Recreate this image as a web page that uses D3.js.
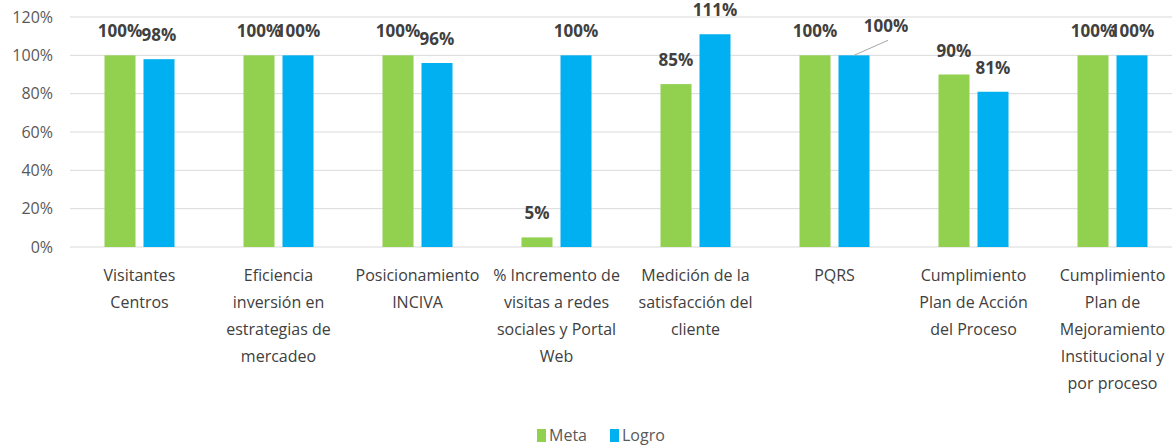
<!DOCTYPE html>
<html>
<head>
<meta charset="utf-8">
<script src="https://cdn.jsdelivr.net/npm/d3@7"></script>
<style>
  body { margin: 0; background: #fff; }
  svg text { font-family: "Open Sans", sans-serif; }
</style>
</head>
<body>
<svg id="chart"></svg>
<script>
const categories = [
  "Visitantes\nCentros",
  "Eficiencia\ninversión en\nestrategias de\nmercadeo",
  "Posicionamiento\nINCIVA",
  "% Incremento de\nvisitas a redes\nsociales y Portal\nWeb",
  "Medición de la\nsatisfacción del\ncliente",
  "PQRS",
  "Cumplimiento\nPlan de Acción\ndel Proceso",
  "Cumplimiento\nPlan de\nMejoramiento\nInstitucional y\npor proceso"
];
const meta = [1.00, 1.00, 1.00, 0.05, 0.85, 1.00, 0.90, 1.00];
const logro = [0.98, 1.00, 0.96, 1.00, 1.11, 1.00, 0.81, 1.00];
const seriesNames = ["Meta", "Logro"];
const colors = ["#92d050", "#00b0f0"];
const yTicks = [0, 0.2, 0.4, 0.6, 0.8, 1.0, 1.2];

const W = 1172, H = 447;
const margin = { top: 17, right: -10, bottom: 200, left: 70 };
const width = W - margin.left - margin.right;
const height = H - margin.top - margin.bottom;

const svg = d3.select("#chart").attr("width", W).attr("height", H);
const g = svg.append("g").attr("transform", `translate(${margin.left},${margin.top})`);

const x = d3.scaleBand().domain(d3.range(categories.length)).range([0, width]);
const y = d3.scaleLinear().domain([0, 1.2]).range([height, 0]);
const pct = d3.format(".0%");

// gridlines
g.selectAll(".grid").data(yTicks).enter().append("line")
  .attr("x1", 0).attr("x2", width)
  .attr("y1", d => y(d)).attr("y2", d => y(d))
  .attr("stroke", "#d9d9d9").attr("stroke-width", 1);

// y tick labels
g.selectAll(".ytick").data(yTicks).enter().append("text")
  .attr("x", -17).attr("y", d => y(d))
  .attr("dy", "0.35em").attr("text-anchor", "end")
  .attr("fill", "#595959").style("font-size", "16px")
  .text(d => pct(d));

const barW = 31, gap = 8;
// the PQRS "Logro" label was dragged aside in the original, with a leader line
const moved = { s: 1, i: 5, dx: 32, dy: -5 };

[meta, logro].forEach((vals, s) => {
  const off = s === 0 ? -gap / 2 - barW : gap / 2;
  const cx = i => x(i) + x.bandwidth() / 2 + off + barW / 2;

  g.selectAll(".bar" + s).data(vals).enter().append("rect")
    .attr("x", (d, i) => cx(i) - barW / 2)
    .attr("y", d => y(d))
    .attr("width", barW)
    .attr("height", d => height - y(d))
    .attr("fill", colors[s]);

  vals.forEach((d, i) => {
    const isMoved = moved.s === s && moved.i === i;
    const lx = cx(i) + (isMoved ? moved.dx : 0);
    const ly = y(d) - 18 + (isMoved ? moved.dy : 0);
    if (isMoved) {
      g.append("line")
        .attr("x1", cx(i)).attr("y1", y(d))
        .attr("x2", lx + 2).attr("y2", ly + 8)
        .attr("stroke", "#a6a6a6").attr("stroke-width", 1);
    }
    g.append("text")
      .attr("x", lx).attr("y", ly)
      .attr("text-anchor", "middle")
      .attr("fill", "#404040").style("font-size", "17px").style("font-weight", "bold")
      .text(pct(d));
  });
});

// category labels
categories.forEach((c, i) => {
  const t = g.append("text")
    .attr("x", x(i) + x.bandwidth() / 2)
    .attr("y", height + 34)
    .attr("text-anchor", "middle")
    .attr("fill", "#404040").style("font-size", "16px");
  c.split("\n").forEach((line, k) => {
    t.append("tspan").attr("x", x(i) + x.bandwidth() / 2)
      .attr("dy", k === 0 ? 0 : 27).text(line);
  });
});

// legend
const legend = svg.append("g").attr("transform", "translate(537,435)");
const legX = [0, 73];
seriesNames.forEach((n, s) => {
  legend.append("rect").attr("x", legX[s]).attr("y", -6).attr("width", 9).attr("height", 13)
    .attr("fill", colors[s]);
  legend.append("text").attr("x", legX[s] + 12).attr("y", 0).attr("dy", "0.35em")
    .attr("fill", "#595959").style("font-size", "16px").text(n);
});
</script>
</body>
</html>
